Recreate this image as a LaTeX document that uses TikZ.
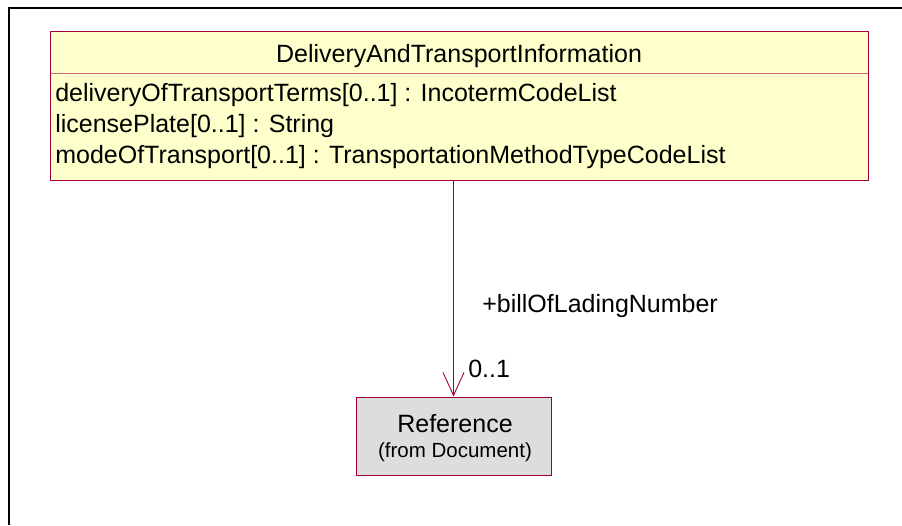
\documentclass[tikz,border=0pt]{standalone}
\usepackage{fontspec}
\setmainfont{Liberation Sans}
\usetikzlibrary{arrows.meta,positioning}

\definecolor{umlred}{RGB}{160,0,55}
\definecolor{umldiv}{RGB}{205,110,125}
\definecolor{umlyellow}{RGB}{255,255,204}
\definecolor{umlgray}{RGB}{221,221,221}

\begin{document}
\begin{tikzpicture}[x=1pt,y=-1pt,>={Straight Barb[length=23pt,width=21pt]},semithick]
\tikzstyle{classbox}=[draw=umlred,line width=1pt,rectangle,inner sep=0pt]
\tikzstyle{txt}=[inner sep=0pt,font=\fontsize{25}{30}\selectfont]
\tikzstyle{small}=[inner sep=0pt,font=\fontsize{20.5}{24}\selectfont]

\useasboundingbox (0,0) rectangle (902,525);
\draw[line width=2.2pt] (9,525) -- (9,7.7) -- (902,7.7);

\node[classbox,fill=umlyellow,minimum width=818pt,minimum height=149pt] (dti) at (459,105.5) {};
\node[classbox,fill=umlgray,minimum width=195pt,minimum height=78pt] (ref) at (453.5,436) {};
\draw[umldiv,line width=1pt] (50.5,73.7) -- (867.5,73.7);

\node[txt,anchor=base] (title) at (459,62) {DeliveryAndTransportInformation};
\node[txt,anchor=base west] (a1) at (55,101) {deliveryOfTransportTerms[0..1] : IncotermCodeList};
\node[txt,anchor=base west] (a2) at (55,132) {licensePlate[0..1] : String};
\node[txt,anchor=base west] (a3) at (55,163) {modeOfTransport[0..1] : TransportationMethodTypeCodeList};

\node[txt,anchor=base] (refname) at (455,432) {Reference};
\node[small,anchor=base] (reffrom) at (455,457) {(from Document)};

\draw[->,umlred,line width=0.9pt] (dti.south -| ref.north) -- (ref.north);
\node[txt,anchor=base west] (role) at (482,312) {+billOfLadingNumber};
\node[txt,anchor=base west] (mult) at (468,377) {0..1};
\end{tikzpicture}
\end{document}
